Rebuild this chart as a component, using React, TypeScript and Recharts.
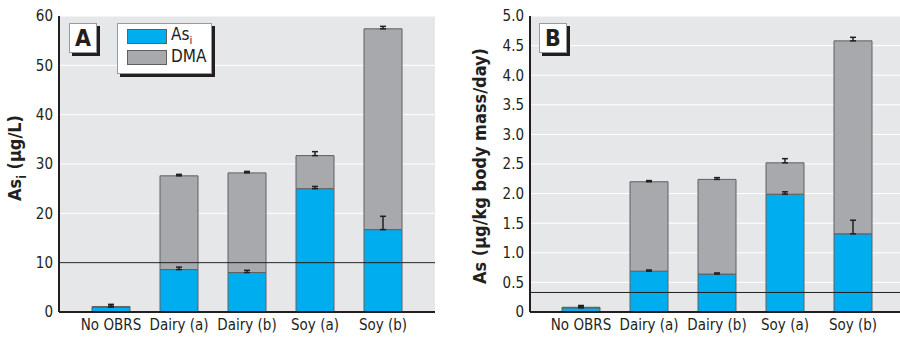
import React from "react";
import {
  ComposedChart,
  Bar,
  Scatter,
  ErrorBar,
  XAxis,
  YAxis,
  CartesianGrid,
  ReferenceLine,
} from "recharts";

const CATEGORIES = ["No OBRS", "Dairy (a)", "Dairy (b)", "Soy (a)", "Soy (b)"];

// Panel A: concentration (µg/L)
const A_ASI = [1.0, 8.6, 8.0, 25.0, 16.7];
const A_DMA = [0.1, 19.0, 20.2, 6.7, 40.7];
const A_ASI_ERR = [0.45, 0.5, 0.45, 0.45, 2.7];
const A_TOTAL_ERR = [0.45, 0.3, 0.3, 0.8, 0.5];
const A_TICKS = [0, 10, 20, 30, 40, 50, 60];
const A_REF = 10;

// Panel B: dose (µg/kg body mass/day)
const B_ASI = [0.07, 0.69, 0.64, 1.99, 1.32];
const B_DMA = [0.01, 1.51, 1.6, 0.53, 3.26];
const B_ASI_ERR = [0.03, 0.02, 0.02, 0.04, 0.23];
const B_TOTAL_ERR = [0.03, 0.02, 0.03, 0.07, 0.06];
const B_TICKS = [0, 0.5, 1, 1.5, 2, 2.5, 3, 3.5, 4, 4.5, 5];
const B_REF = 0.33;

const FONT = '"Liberation Sans Narrow", "DejaVu Sans Condensed", "Arial Narrow", sans-serif';
const BLUE = "#00adef";
const GRAY = "#a7a9ac";
const BG = "#e6e7e8";
const EDGE = "#5f6062";

function buildRows(asi: number[], dma: number[], asiErr: number[], totErr: number[]) {
  return CATEGORIES.map((name, i) => ({
    name,
    asi: asi[i],
    dma: dma[i],
    total: asi[i] + dma[i],
    asiErr: [0, asiErr[i]],
    totalErr: [0, totErr[i]],
  }));
}

const rowsA = buildRows(A_ASI, A_DMA, A_ASI_ERR, A_TOTAL_ERR);
const rowsB = buildRows(B_ASI, B_DMA, B_ASI_ERR, B_TOTAL_ERR);

const noDot = () => <g />;

function YLabel({ x, y, sub, text }: { x: number; y: number; sub?: boolean; text: string }) {
  return (
    <text
      x={x}
      y={y}
      transform={`rotate(-90, ${x}, ${y})`}
      textAnchor="middle"
      fontFamily={FONT}
      fontWeight="bold"
      fontSize={18}
      fill="#231f20"
    >
      {sub ? (
        <>
          <tspan>As</tspan>
          <tspan fontSize={12} dy={5}>i</tspan>
          <tspan dy={-5}>{" (µg/L)"}</tspan>
        </>
      ) : (
        text
      )}
    </text>
  );
}

function Tag({ left, letter }: { left: number; letter: string }) {
  return (
    <div
      style={{
        position: "absolute",
        left,
        top: 23,
        width: 26,
        height: 28,
        background: "#fff",
        border: "1px solid #9a9b9d",
        boxShadow: "3px 3px 0 #231f20",
        fontFamily: FONT,
        fontWeight: "bold",
        fontSize: 23,
        lineHeight: "28px",
        textAlign: "center",
        color: "#231f20",
      }}
    >
      {letter}
    </div>
  );
}

function Panel({
  rows,
  ticks,
  refY,
  width,
  yWidth,
  marginRight,
  padL,
  padR,
  fmt,
}: {
  rows: any[];
  ticks: number[];
  refY: number;
  width: number;
  yWidth: number;
  marginRight: number;
  padL: number;
  padR: number;
  fmt: (v: number) => string;
}) {
  const tickStyle = { fill: "#231f20", fontSize: 15, fontFamily: FONT };
  return (
    <ComposedChart
      width={width}
      height={337}
      data={rows}
      margin={{ top: 16, right: marginRight, left: 0, bottom: 0 }}
      barSize={38}
    >
      <CartesianGrid fill={BG} stroke="#ffffff" strokeWidth={1} vertical={false} />
      <XAxis
        dataKey="name"
        height={25}
        axisLine={{ stroke: "#231f20", strokeWidth: 2 }}
        tickLine={false}
        tickSize={0}
        tickMargin={7}
        padding={{ left: padL, right: padR }}
        tick={tickStyle}
        interval={0}
      />
      <YAxis
        width={yWidth}
        domain={[ticks[0], ticks[ticks.length - 1]]}
        ticks={ticks}
        interval={0}
        tickFormatter={fmt}
        axisLine={{ stroke: "#231f20", strokeWidth: 2 }}
        tickLine={false}
        tickSize={0}
        tickMargin={6}
        tick={tickStyle}
      />
      <ReferenceLine y={refY} stroke="#231f20" strokeWidth={1} />
      <Bar dataKey="asi" stackId="s" fill={BLUE} stroke={EDGE} strokeWidth={1} isAnimationActive={false} />
      <Bar dataKey="dma" stackId="s" fill={GRAY} stroke={EDGE} strokeWidth={1} isAnimationActive={false} />
      <Scatter dataKey="asi" shape={noDot} isAnimationActive={false}>
        <ErrorBar dataKey="asiErr" direction="y" width={3} stroke="#231f20" strokeWidth={1.5} />
      </Scatter>
      <Scatter dataKey="total" shape={noDot} isAnimationActive={false}>
        <ErrorBar dataKey="totalErr" direction="y" width={3} stroke="#231f20" strokeWidth={1.5} />
      </Scatter>
    </ComposedChart>
  );
}

export default function App() {
  return (
    <div style={{ position: "absolute", left: 0, top: 0, width: 900, height: 337, background: "#fff", overflow: "hidden" }}>
      <div style={{ position: "absolute", left: 0, top: 0 }}>
        <Panel
          rows={rowsA}
          ticks={A_TICKS}
          refY={A_REF}
          width={450}
          yWidth={59}
          marginRight={15}
          padL={18}
          padR={18}
          fmt={(v) => String(v)}
        />
        <svg style={{ position: "absolute", left: 0, top: 0 }} width={40} height={337}>
          <YLabel x={21} y={158} sub text="" />
        </svg>
        <Tag left={69} letter="A" />
        <div
          style={{
            position: "absolute",
            left: 117,
            top: 23,
            width: 93,
            height: 49,
            background: "#fff",
            border: "1px solid #9a9b9d",
            boxShadow: "3px 3px 0 #231f20",
            fontFamily: FONT,
            fontSize: 17,
            color: "#231f20",
          }}
        >
          <div style={{ position: "absolute", left: 9, top: 5, width: 38, height: 13, background: BLUE, border: `1px solid ${EDGE}` }} />
          <div style={{ position: "absolute", left: 53, top: 0, height: 20, lineHeight: "20px" }}>
            As<span style={{ fontSize: 11, position: "relative", top: 4, lineHeight: 0 }}>i</span>
          </div>
          <div style={{ position: "absolute", left: 9, top: 26, width: 38, height: 13, background: GRAY, border: `1px solid ${EDGE}` }} />
          <div style={{ position: "absolute", left: 53, top: 22, height: 20, lineHeight: "20px" }}>DMA</div>
        </div>
      </div>
      <div style={{ position: "absolute", left: 450, top: 0 }}>
        <Panel
          rows={rowsB}
          ticks={B_TICKS}
          refY={B_REF}
          width={450}
          yWidth={80}
          marginRight={0}
          padL={17}
          padR={13}
          fmt={(v) => (v === 0 ? "0" : v.toFixed(1))}
        />
        <svg style={{ position: "absolute", left: 0, top: 0 }} width={60} height={337}>
          <YLabel x={36} y={166} text="As (µg/kg body mass/day)" />
        </svg>
        <Tag left={89} letter="B" />
      </div>
    </div>
  );
}
